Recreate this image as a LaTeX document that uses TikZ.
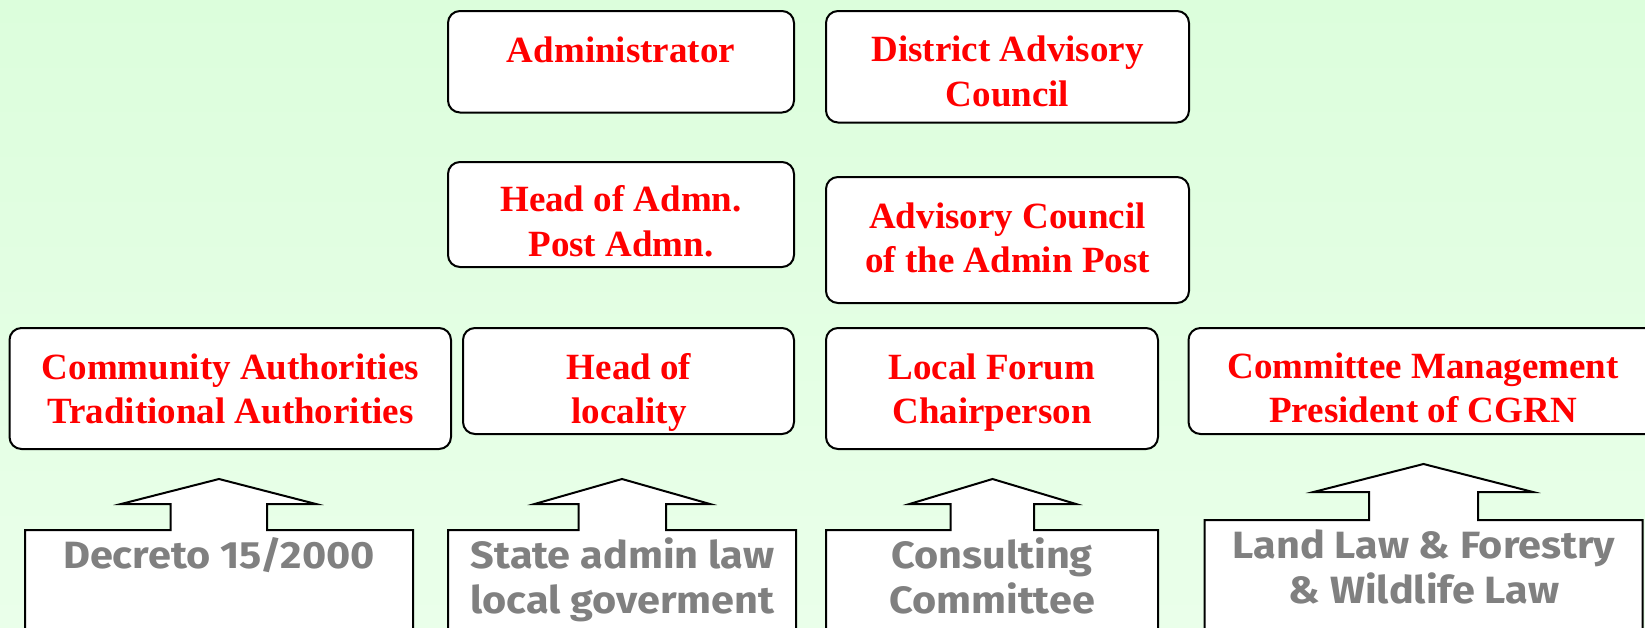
\documentclass[tikz,border=0pt]{standalone}
\usepackage{fontspec}
\setmainfont{Liberation Serif}
\newfontfamily\lawfont[FakeStretch=1.09]{Fira Sans}
\definecolor{bgtop}{RGB}{220,254,220}
\definecolor{bgbot}{RGB}{234,255,234}
\definecolor{lawgray}{RGB}{128,128,128}
\definecolor{titlered}{RGB}{255,0,0}
\begin{document}
\begin{tikzpicture}[x=1pt,y=-1pt,
  rbox/.style={draw=black, line width=2pt, rounded corners=12pt, fill=white, inner sep=0pt},
  rtext/.style={text=titlered, font=\fontsize{37}{44}\selectfont\bfseries, anchor=base, inner sep=0pt},
  ltext/.style={text=lawgray, font=\lawfont\fontsize{38}{44}\selectfont\bfseries, anchor=base, inner sep=0pt},
  blockarrow/.style={draw=black, line width=2pt, fill=white, line join=miter}]
\useasboundingbox (0,0) rectangle (1645,627);
\clip (0,0) rectangle (1645,627);
\shade[top color=bgtop, bottom color=bgbot] (0,0) rectangle (1645,627);

% top boxes
\node[rbox, minimum width=346pt, minimum height=101.5pt] (adm) at (621,61.75) {};
\node[rtext] (admT) at (621,62) {Administrator};

\node[rbox, minimum width=363pt, minimum height=111.5pt] (dac) at (1007.5,66.75) {};
\node[rtext] (dacT1) at (1007.5,61) {District Advisory};
\node[rtext] (dacT2) at (1007.5,106) {Council};

\node[rbox, minimum width=346pt, minimum height=105pt] (hap) at (621,214.5) {};
\node[rtext] (hapT1) at (621,211.5) {Head of Admn.};
\node[rtext] (hapT2) at (621,256.5) {Post Admn.};

\node[rbox, minimum width=363pt, minimum height=126pt] (acp) at (1007.5,240) {};
\node[rtext] (acpT1) at (1007.5,228) {Advisory Council};
\node[rtext] (acpT2) at (1007.5,272) {of the Admin Post};

% middle row
\node[rbox, minimum width=441.5pt, minimum height=121pt] (ca) at (230.25,388.5) {};
\node[rtext] (caT1) at (230.5,379) {Community Authorities};
\node[rtext] (caT2) at (230.5,423) {Traditional Authorities};

\node[rbox, minimum width=331pt, minimum height=106pt] (hl) at (628.5,381) {};
\node[rtext] (hlT1) at (629,379) {Head of};
\node[rtext] (hlT2) at (629,423) {locality};

\node[rbox, minimum width=332pt, minimum height=121pt] (lf) at (992,388.5) {};
\node[rtext] (lfT1) at (992,379) {Local Forum};
\node[rtext] (lfT2) at (992,423) {Chairperson};

\node[rbox, minimum width=490pt, minimum height=106pt] (cm) at (1433.5,381) {};
\node[rtext] (cmT1) at (1423,378) {Committee Management};
\node[rtext] (cmT2) at (1423,422) {President of CGRN};

% block arrows with law boxes
\draw[blockarrow] (25,700) -- (25,530) -- (170.5,530) -- (170.5,504) -- (121,504) -- (219,479)
  -- (316,504) -- (267,504) -- (267,530) -- (413,530) -- (413,700) -- cycle;
\node[ltext] (l1) at (219,568) {Decreto 15/2000};

\draw[blockarrow] (448,700) -- (448,530) -- (578.5,530) -- (578.5,504) -- (534.5,504) -- (622,479)
  -- (710,504) -- (666,504) -- (666,530) -- (796,530) -- (796,700) -- cycle;
\node[ltext] (l2a) at (622.5,568) {State admin law};
\node[ltext] (l2b) at (622.5,613) {local goverment};

\draw[blockarrow] (826,700) -- (826,530) -- (950.5,530) -- (950.5,504) -- (909.5,504) -- (992.5,479)
  -- (1076,504) -- (1034,504) -- (1034,530) -- (1158,530) -- (1158,700) -- cycle;
\node[ltext] (l3a) at (992,568) {Consulting};
\node[ltext] (l3b) at (992,613) {Committee};

\draw[blockarrow] (1204.5,700) -- (1204.5,520) -- (1369,520) -- (1369,492) -- (1313.5,492) -- (1423.5,464)
  -- (1533,492) -- (1478,492) -- (1478,520) -- (1642.5,520) -- (1642.5,700) -- cycle;
\node[ltext] (l4a) at (1424,558) {Land Law \& Forestry};
\node[ltext] (l4b) at (1424,603) {\& Wildlife Law};
\end{tikzpicture}
\end{document}
